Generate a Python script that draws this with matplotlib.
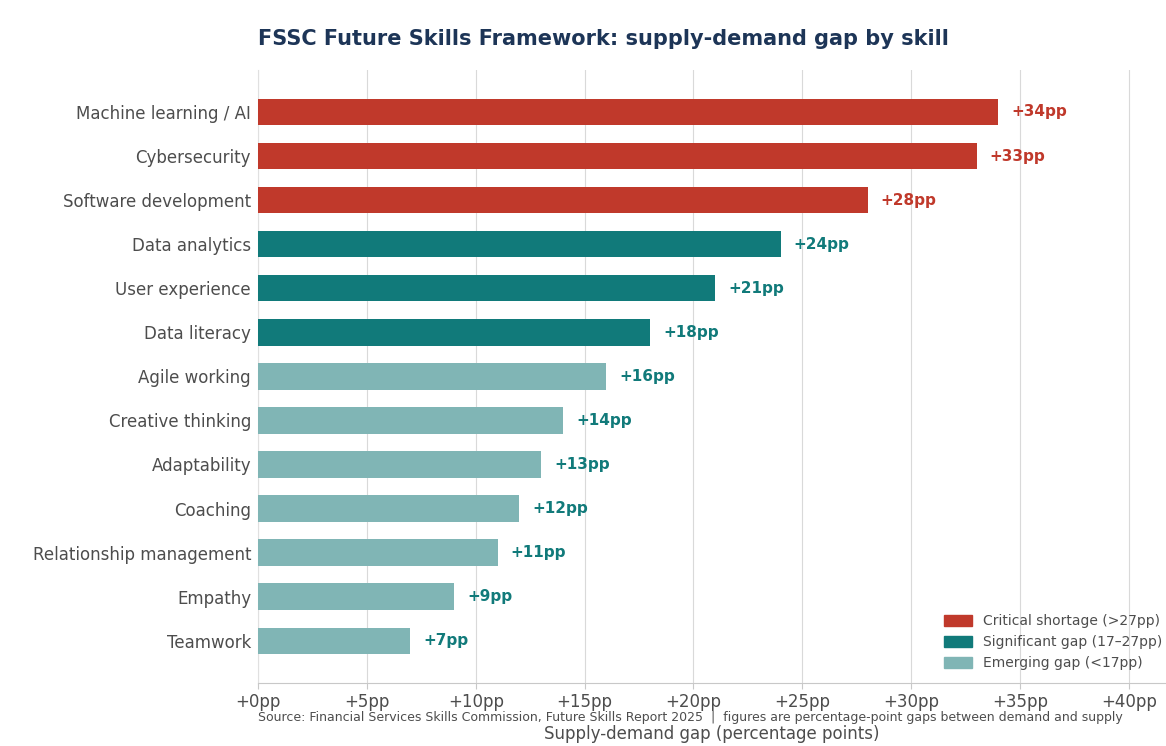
import matplotlib
matplotlib.use("Agg")
import matplotlib.pyplot as plt
from matplotlib.patches import Patch
from matplotlib.ticker import FuncFormatter

skills = ["Machine learning / AI", "Cybersecurity", "Software development",
          "Data analytics", "User experience", "Data literacy", "Agile working",
          "Creative thinking", "Adaptability", "Coaching",
          "Relationship management", "Empathy", "Teamwork"]
gaps = [34, 33, 28, 24, 21, 18, 16, 14, 13, 12, 11, 9, 7]

RED = "#c0392b"
TEAL = "#117a7a"
LIGHT = "#80b5b5"
TXT = "#4d4d4d"


def bar_colour(v):
    if v > 27:
        return RED
    if v >= 17:
        return TEAL
    return LIGHT


plt.rcParams['font.family'] = ['DejaVu Sans']
fig, ax = plt.subplots(figsize=(11.66, 7.46), dpi=100)
fig.subplots_adjust(left=0.2213, right=0.999, top=0.906, bottom=0.085)

ypos = list(range(len(skills)))
colours = [bar_colour(v) for v in gaps]
ax.barh(ypos, gaps, height=0.6, color=colours, zorder=3)
for y, v in zip(ypos, gaps):
    lc = RED if v > 27 else TEAL
    ax.text(v + 0.6, y, f"+{v}pp", va="center", ha="left", fontsize=11,
            fontweight="bold", color=lc, zorder=4)

ax.set_yticks(ypos)
ax.set_yticklabels(skills, fontsize=12, color=TXT)
ax.set_ylim(12.95, -0.95)
ax.set_xlim(0, max(gaps) * 1.225)
ax.set_xticks(range(0, 45, 5))
ax.xaxis.set_major_formatter(FuncFormatter(lambda x, p: f"+{x:.0f}pp"))
ax.tick_params(axis="x", labelsize=12, colors=TXT, length=4, color="#c8c8c8")
ax.tick_params(axis="y", length=0, pad=5)
for lab in ax.get_xticklabels():
    lab.set_color(TXT)

ax.grid(axis="x", color="#d9d9d9", linewidth=0.8, zorder=0)
for s in ["top", "right"]:
    ax.spines[s].set_visible(False)
ax.spines["left"].set_color("#e0e0e0")
ax.spines["bottom"].set_color("#c8c8c8")

ax.set_xlabel("Supply-demand gap (percentage points)", fontsize=12, color=TXT,
              labelpad=10)
ax.set_title("FSSC Future Skills Framework: supply-demand gap by skill",
             loc="left", fontsize=15, fontweight="bold", color="#1d3557", pad=18)

handles = [Patch(color=RED, label="Critical shortage (>27pp)"),
           Patch(color=TEAL, label="Significant gap (17\u201327pp)"),
           Patch(color=LIGHT, label="Emerging gap (<17pp)")]
leg = ax.legend(handles=handles, loc="lower right", frameon=False, fontsize=10,
                handlelength=2.0, handleheight=0.8, borderaxespad=0,
                bbox_to_anchor=(1.003, 0.0114))
for t in leg.get_texts():
    t.set_color(TXT)

fig.text(0.2213, 0.034, "Source: Financial Services Skills Commission, Future Skills Report 2025  |  "
         "figures are percentage-point gaps between demand and supply",
         fontsize=9, color=TXT, ha="left")

fig.savefig("out.png", dpi=100)
